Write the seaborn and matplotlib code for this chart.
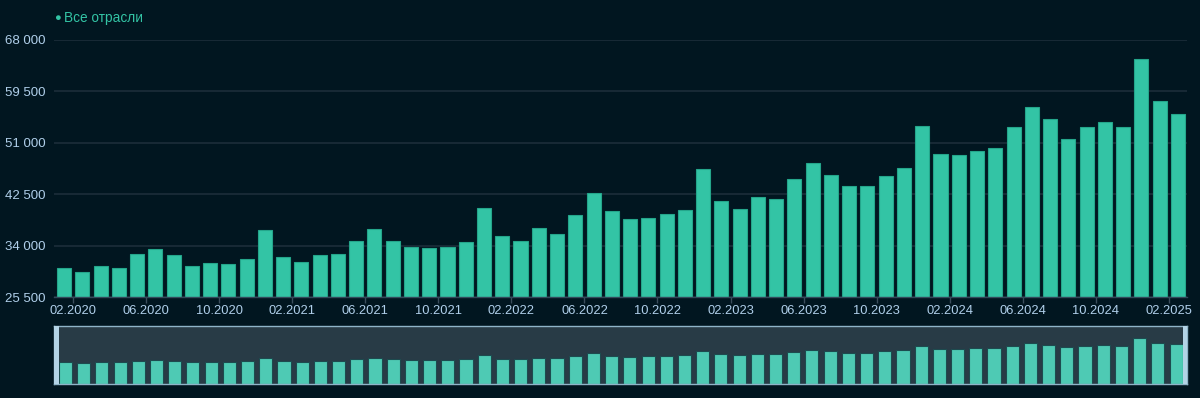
import matplotlib
matplotlib.use("Agg")
import matplotlib.pyplot as plt
from matplotlib.ticker import FuncFormatter, FixedLocator
from matplotlib.patches import Rectangle
import seaborn as sns
import pandas as pd

# --- Data (monthly, 01.2020 .. 02.2025) ---
months = [f"{m:02d}.{y}" for y in range(2020, 2026) for m in range(1, 13)][:62]
values = [
    30250, 29690, 30680, 30350, 32610, 33380, 32500, 30680, 31070, 30960,
    31730, 36530, 32060, 31290, 32500, 32610, 34820, 36800, 34710, 33710,
    33550, 33770, 34600, 40160, 35590, 34760, 36970, 35860, 39060, 42640,
    39780, 38400, 38620, 39280, 39940, 46670, 41380, 40000, 42090, 41710,
    44960, 47610, 45620, 43910, 43860, 45510, 46830, 53730, 49200, 48930,
    49640, 50090, 53670, 56920, 54990, 51570, 53560, 54500, 53670, 64800,
    57860, 55820,
]
series_name = "Все отрасли"
y_ticks = [25500, 34000, 42500, 51000, 59500, 68000]
x_tick_labels = [months[i] for i in range(1, 62, 4)]  # 02.2020, 06.2020, ...

df = pd.DataFrame({"month": months, "value": values})

# --- Style ---
BG = "#011620"
BAR = "#33c4a5"
BAR_EDGE = "#24a68b"
GRID = "#1c2d3a"
TEXT = "#b0cfea"

sns.set_theme(style="dark", rc={"axes.facecolor": BG, "figure.facecolor": BG})
plt.rcParams["font.family"] = ["Liberation Sans", "DejaVu Sans"]

fig = plt.figure(figsize=(12, 3.98), dpi=100)
W, H = 1200, 398
ax = fig.add_axes([54 / W, 101 / H, 1133 / W, 257 / H])

sns.barplot(data=df, x="month", y="value", order=months, color=BAR,
            width=0.77, edgecolor=BAR_EDGE, linewidth=0.8, saturation=1, ax=ax)

ax.set_xlim(-0.55, 61.5)
ax.set_ylim(25500, 68000)
ax.set_yticks(y_ticks)
ax.yaxis.set_major_formatter(FuncFormatter(lambda v, p: f"{v:,.0f}".replace(",", " ")))
ax.xaxis.set_major_locator(FixedLocator([i + 0.5 for i in range(0, 61, 4)]))
ax.set_xticklabels(x_tick_labels)
ax.set_xlabel("")
ax.set_ylabel("")
ax.set_axisbelow(True)
ax.grid(axis="y", color=GRID, linewidth=1.2)
ax.grid(axis="x", visible=False)
for s in ["top", "right", "left"]:
    ax.spines[s].set_visible(False)
ax.spines["bottom"].set_color("#34495a")
ax.spines["bottom"].set_linewidth(1)
ax.tick_params(axis="x", colors=TEXT, labelsize=9.3, length=4, width=1,
               color="#3b4d5c", pad=2, bottom=True)
ax.tick_params(axis="y", colors=TEXT, labelsize=9.5, length=0, pad=6)

# legend
fig.text(57 / W, 1 - 18.5 / H, "●", color=BAR, fontsize=8, va="center", ha="center")
fig.text(64 / W, 1 - 18 / H, series_name, color=BAR, fontsize=9.8, va="center", ha="left")

# --- Data zoom slider ---
ax2 = fig.add_axes([54 / W, 14 / H, 1133 / W, 58 / H])
ax2.set_facecolor("#283b46")
sns.barplot(data=df, x="month", y="value", order=months, color="#4ecab4",
            width=0.72, edgecolor="#1d4b4f", linewidth=0.8, saturation=1, ax=ax2)
ax2.set_xlim(-0.63, 61.6)
ax2.set_ylim(0, 81000)
ax2.set_xticks([])
ax2.set_yticks([])
ax2.set_xlabel("")
ax2.set_ylabel("")
for s in ax2.spines.values():
    s.set_color("#8fb4c8")
    s.set_linewidth(1)
for x0 in (0, 1 - 4.5 / 1133):
    ax2.add_patch(Rectangle((x0, 0), 4.5 / 1133, 1, transform=ax2.transAxes,
                            facecolor="#b3d3e6", edgecolor="none", zorder=5, clip_on=False))

fig.savefig("out.png", dpi=100, facecolor=BG)
